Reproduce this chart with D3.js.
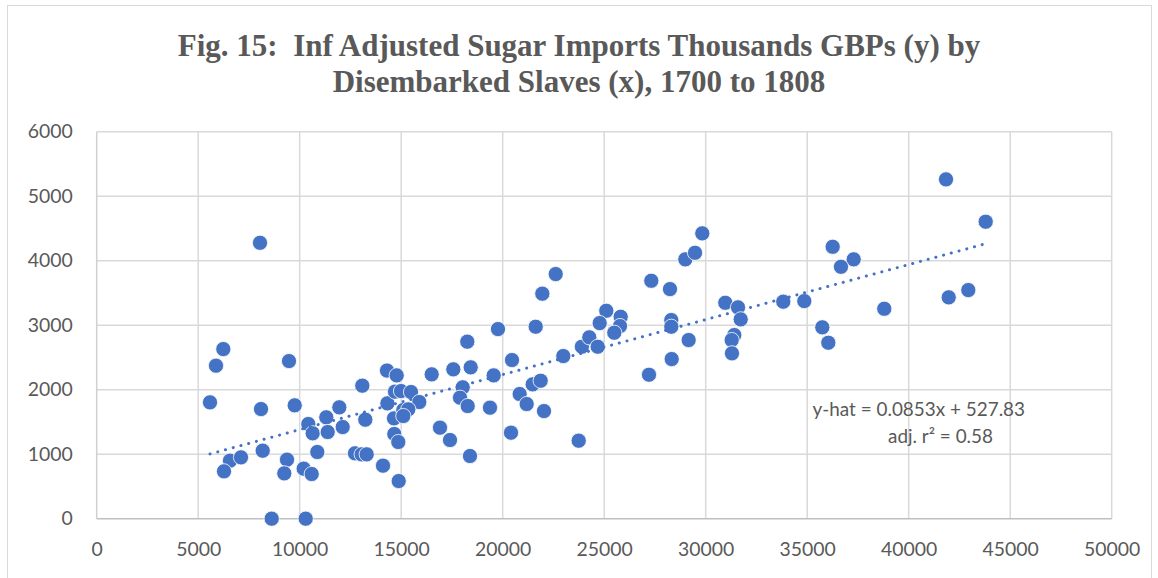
<!DOCTYPE html>
<html><head><meta charset="utf-8">
<script src="https://cdn.jsdelivr.net/npm/d3@7"></script>
<style>body{margin:0;background:#fff}svg{display:block}text{white-space:pre}</style>
</head><body>
<svg id="c" width="1158" height="578"></svg>
<script>
const titleLines = ["Fig. 15:  Inf Adjusted Sugar Imports Thousands GBPs (y) by", "Disembarked Slaves (x), 1700 to 1808"];
const xTicks = [0,5000,10000,15000,20000,25000,30000,35000,40000,45000,50000];
const yTicks = [0,1000,2000,3000,4000,5000,6000];
const xValues = [8044,6237,5877,9473,5581,8094,9754,13084,14300,14320,10424,10640,11310,11379,11952,12118,13232,8177,6566,7108,6271,9374,9241,10867,10197,10591,12724,13053,13300,14103,8620,10295,14645,14660,
14778,14694,14990,15483,15892,15104,15350,15104,14857,14877,16502,17567,18424,18256,19768,18030,17897,18276,16911,17404,18389,19556,20458,20836,21181,21476,21870,19374,22034,20409,22985,23900,23743,
22611,21952,21625,25103,24778,25812,25778,25497,24266,24680,27320,28241,28996,29474,28305,28305,29161,28325,27207,30965,31591,31724,31408,31280,31294,
29832,33822,34857,36255,37290,36664,38797,35744,36040,41971,42936,41838,43793];
const yValues = [4278,2630,2372,2444,1804,1700,1758,2062,2297,1789,1468,1324,1572,1344,1727,1421,1535,1054,899,951,735,915,703,1034,775,693,1014,998,998,822,0,0,1556,1313,
2222,1969,1979,1964,1809,1685,1696,1592,1189,584,2238,2316,2347,2744,2940,2037,1876,1747,1411,1220,972,2222,2460,1933,1778,2083,2139,1721,1669,1333,2522,2666,1209,
3793,3488,2976,3224,3033,3131,2987,2883,2812,2666,3689,3560,4021,4123,3080,2976,2770,2475,2232,3348,3277,3091,2847,2770,2564,
4424,3364,3374,4216,4021,3906,3255,2967,2728,3432,3545,5261,4604];
const trendSlope = 0.0853, trendIntercept = 527.83;
const eqLabel = "y-hat = 0.0853x + 527.83";
const r2Label = "adj. r² = 0.58";

const svg = d3.select("#c");
const gray = "#595959";
const sans = "Lato,'Open Sans',sans-serif";
svg.append("rect").attr("x",7.5).attr("y",5.5).attr("width",1144).attr("height",600)
  .attr("fill","#fff").attr("stroke","#d9d9d9").attr("stroke-width",1);

const x = d3.scaleLinear().domain([0,50000]).range([96.7,1111.7]);
const y = d3.scaleLinear().domain([0,6000]).range([518.7,131.7]);

const t = svg.append("text").attr("x",579).attr("font-family","'Liberation Serif','Times New Roman',serif")
  .attr("font-weight","bold").attr("font-size",31).attr("fill",gray).attr("text-anchor","middle");
titleLines.forEach((l,i)=>t.append("tspan").attr("x",579).attr("y",56+i*36).text(l));

// gridlines
svg.append("g").selectAll("line").data(yTicks.filter(d=>d>0)).join("line")
  .attr("x1",x(0)).attr("x2",x(50000)).attr("y1",d=>y(d)).attr("y2",d=>y(d))
  .attr("stroke","#d9d9d9").attr("stroke-width",1.5);
svg.append("g").selectAll("line").data(xTicks.filter(d=>d>0)).join("line")
  .attr("x1",d=>x(d)).attr("x2",d=>x(d)).attr("y1",y(0)).attr("y2",y(6000))
  .attr("stroke","#d9d9d9").attr("stroke-width",1.5);
// axes lines
svg.append("line").attr("x1",x(0)).attr("x2",x(0)).attr("y1",y(0)).attr("y2",y(6000)).attr("stroke","#d0d0d0").attr("stroke-width",1.5);
svg.append("line").attr("x1",x(0)).attr("x2",x(50000)).attr("y1",y(0)).attr("y2",y(0)).attr("stroke","#bfbfbf").attr("stroke-width",1.5);

const xAxis = d3.axisBottom(x).tickValues(xTicks).tickFormat(d3.format("d")).tickSize(0).tickPadding(24);
const gx = svg.append("g").attr("transform",`translate(0,${y(0)})`).call(xAxis);
gx.select(".domain").remove();
gx.selectAll("text").attr("font-family",sans).attr("font-size",19.4).attr("fill",gray);
const yAxis = d3.axisLeft(y).tickValues(yTicks).tickFormat(d3.format("d")).tickSize(0).tickPadding(24);
const gy = svg.append("g").attr("transform",`translate(${x(0)},0)`).call(yAxis);
gy.select(".domain").remove();
gy.selectAll("text").attr("font-family",sans).attr("font-size",19.4).attr("fill",gray);

// points
const pts = xValues.map((v,i)=>[v,yValues[i]]);
svg.append("g").selectAll("circle").data(pts).join("circle")
  .attr("cx",d=>x(d[0])).attr("cy",d=>y(d[1])).attr("r",7.6)
  .attr("fill","#4472C4").attr("stroke","#fff").attr("stroke-width",0.8);

// trendline
const xmin = d3.min(xValues), xmax = d3.max(xValues);
svg.append("line").attr("x1",x(xmin)).attr("y1",y(trendSlope*xmin+trendIntercept))
  .attr("x2",x(xmax)).attr("y2",y(trendSlope*xmax+trendIntercept))
  .attr("stroke","#4472C4").attr("stroke-width",3).attr("stroke-linecap","round").attr("stroke-dasharray","0.1 7.9");

svg.append("text").attr("x",1025).attr("y",416).attr("text-anchor","end")
  .attr("font-family",sans).attr("font-size",18.9).attr("fill",gray).text(eqLabel);
svg.append("text").attr("x",993).attr("y",443).attr("text-anchor","end")
  .attr("font-family",sans).attr("font-size",18.9).attr("fill",gray).text(r2Label);
</script>
</body></html>
